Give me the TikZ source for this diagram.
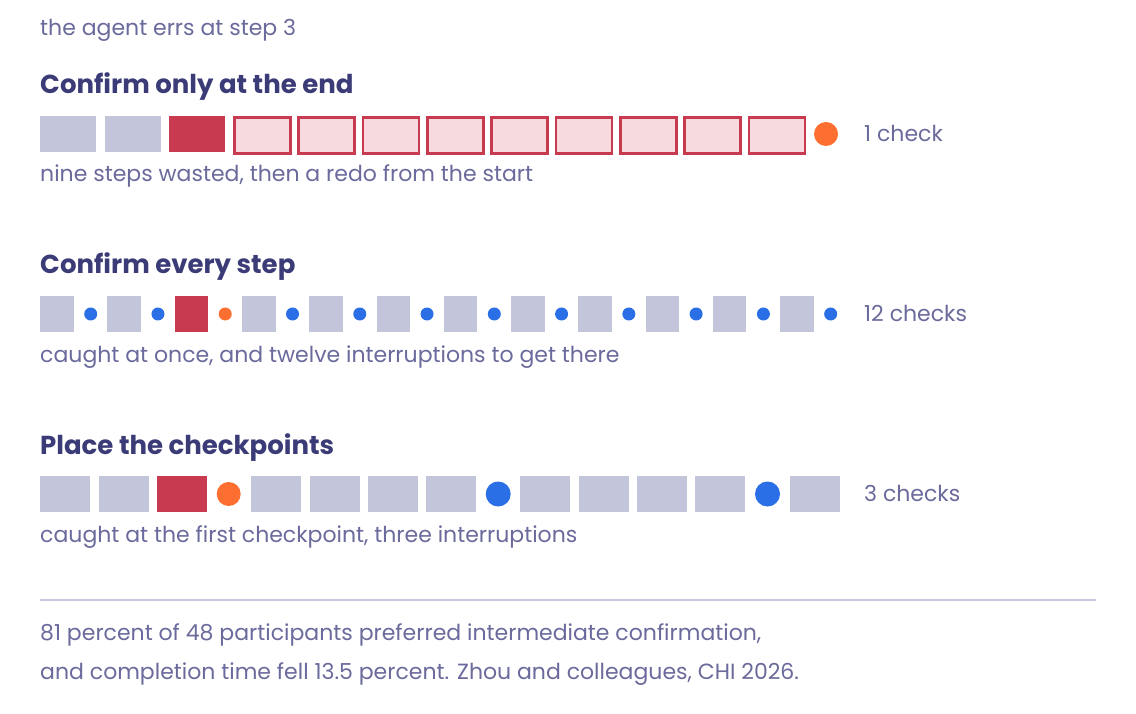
\documentclass[tikz,border=0pt]{standalone}
\usepackage{fontspec}
\setmainfont{Poppins}
\definecolor{titlec}{RGB}{59,59,119}
\definecolor{bodyc}{RGB}{106,106,156}
\definecolor{greyc}{RGB}{195,197,218}
\definecolor{redc}{RGB}{199,58,79}
\definecolor{pinkc}{RGB}{246,218,224}
\definecolor{orangec}{RGB}{253,111,49}
\definecolor{bluec}{RGB}{42,111,229}
\definecolor{rulec}{RGB}{199,200,221}
\tikzset{
  lbl/.style={inner sep=0pt, anchor=base west, text=bodyc, font=\fontsize{22}{26}\selectfont},
  ttl/.style={inner sep=0pt, anchor=base west, text=titlec, font=\fontsize{26}{30}\selectfont\bfseries},
  sq/.style={rectangle, inner sep=0pt, anchor=north west, draw=none},
  greysq/.style={sq, fill=greyc},
  redsq/.style={sq, fill=redc},
  pinksq/.style={sq, fill=pinkc, draw=redc, line width=2.8pt},
  dotc/.style={circle, inner sep=0pt, draw=none},
}
\begin{document}
\begin{tikzpicture}[x=1pt,y=-1pt]
\useasboundingbox[fill=white] (0,0) rectangle (1136,714);

\node[lbl] (intro) at (40,36) {the agent errs at step 3};

% Row 1
\node[ttl] (t1) at (40,94) {Confirm only at the end};
\foreach \i in {0,1}{
  \node[greysq, minimum width=56pt, minimum height=36pt] (a\i) at (40+64.33*\i,116) {};
}
\node[redsq, minimum width=56pt, minimum height=36pt] (a2) at (40+64.33*2,116) {};
\foreach \i in {3,...,11}{
  \node[pinksq, minimum width=56pt, minimum height=36pt] (a\i) at (40+64.33*\i,116) {};
}
\node[dotc, fill=orangec, minimum size=24pt] (ad) at (826,134) {};
\node[lbl] (c1) at (864,141.5) {1 check};
\node[lbl] (s1) at (40,182) {nine steps wasted, then a redo from the start};

% Row 2
\node[ttl] (t2) at (40,274) {Confirm every step};
\foreach \i in {0,...,11}{
  \ifnum\i=2
    \node[redsq, minimum width=33.5pt, minimum height=36pt] (b\i) at (40+67.27*\i,296) {};
    \node[dotc, fill=orangec, minimum size=13pt] (bd\i) at (90.7+67.27*\i,314) {};
  \else
    \node[greysq, minimum width=33.5pt, minimum height=36pt] (b\i) at (40+67.27*\i,296) {};
    \node[dotc, fill=bluec, minimum size=13pt] (bd\i) at (90.7+67.27*\i,314) {};
  \fi
}
\node[lbl] (c2) at (864,321.5) {12 checks};
\node[lbl] (s2) at (40,362) {caught at once, and twelve interruptions to get there};

% Row 3
\node[ttl] (t3) at (40,454) {Place the checkpoints};
\foreach \x [count=\k] in {40,98.33,251,309.33,367.67,426,520,578.33,636.67,695,790}{
  \node[greysq, minimum width=50pt, minimum height=36pt] (p\k) at (\x,476) {};
}
\node[redsq, minimum width=50pt, minimum height=36pt] (pr) at (156.67,476) {};
\node[dotc, fill=orangec, minimum size=24pt] (pd1) at (228.7,494) {};
\node[dotc, fill=bluec, minimum size=25pt] (pd2) at (498.2,494) {};
\node[dotc, fill=bluec, minimum size=25pt] (pd3) at (767.5,494) {};
\node[lbl] (c3) at (864,501.5) {3 checks};
\node[lbl] (s3) at (40,542) {caught at the first checkpoint, three interruptions};

% Footer
\coordinate (r0) at (40,600);
\coordinate (r1) at (1096,600);
\draw[rulec, line width=1.5pt] (r0) -- (r1);
\node[lbl] (f1) at (40,640) {81 percent of 48 participants preferred intermediate confirmation,};
\node[lbl] (f2) at (40,679) {and completion time fell 13.5 percent. Zhou and colleagues, CHI 2026.};
\end{tikzpicture}
\end{document}
